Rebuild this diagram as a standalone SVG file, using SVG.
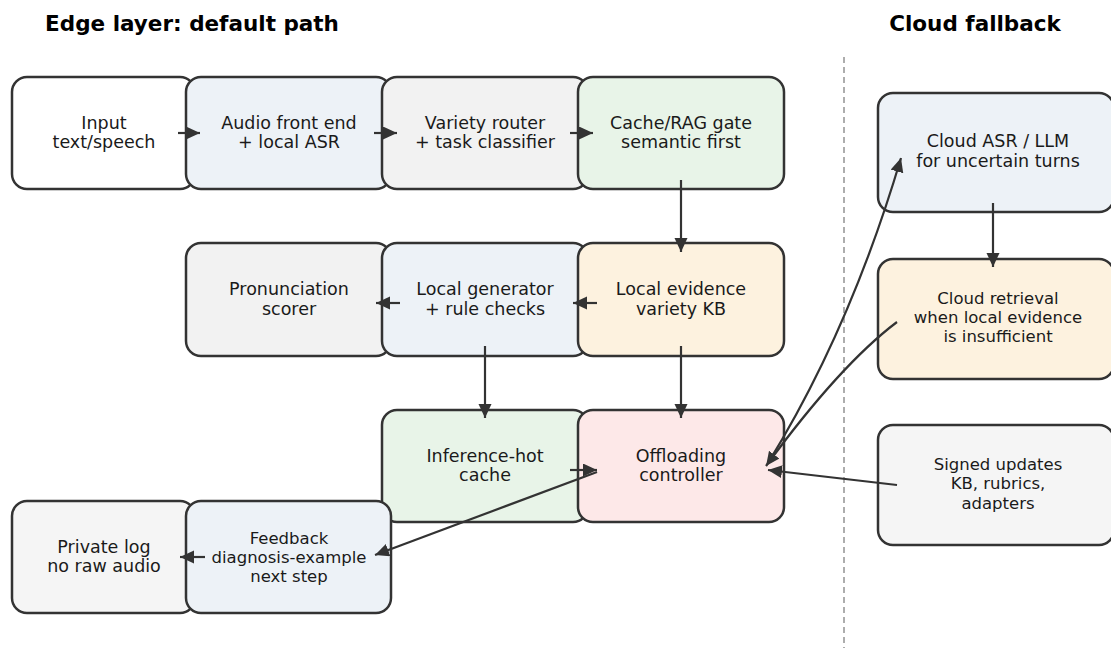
<svg xmlns="http://www.w3.org/2000/svg" width="1111" height="648" viewBox="0 0 1111 648">
  <style>
    .title { font-family: "DejaVu Sans", "Liberation Sans", sans-serif; font-weight: bold; font-size: 21.5px; fill: #000; text-anchor: middle; }
    .box { stroke: #333333; stroke-width: 2.5; }
    .label { font-family: "DejaVu Sans", "Liberation Sans", sans-serif; font-size: 17.5px; fill: #1a1a1a; text-anchor: middle; }
    .small { font-size: 16.5px; }
    .edge { fill: none; stroke: #333333; stroke-width: 2.2; marker-end: url(#head); }
    .divider { stroke: #999999; stroke-width: 1.6; stroke-dasharray: 6 4; }
  </style>
  <defs>
    <marker id="head" markerUnits="userSpaceOnUse" markerWidth="15" markerHeight="14" refX="14" refY="6.5" orient="auto">
      <path d="M0,0 L14,6.5 L0,13 z" fill="#333333"/>
    </marker>
  </defs>

  <rect width="1111" height="648" fill="#ffffff"/>

  <!-- section headings -->
  <text class="title" x="192" y="31">Edge layer: default path</text>
  <text class="title" x="975" y="31">Cloud fallback</text>

  <!-- edge / cloud boundary -->
  <line class="divider" x1="844" y1="57" x2="844" y2="648"/>

  <g id="nodes">
    <g id="input">
      <rect class="box" x="12" y="77" width="183" height="112" rx="15" fill="#ffffff"/>
      <text class="label" x="104" y="129">Input</text>
      <text class="label" x="104" y="148">text/speech</text>
    </g>
    <g id="audio-front-end">
      <rect class="box" x="186" y="77" width="205" height="112" rx="15" fill="#edf2f7"/>
      <text class="label" x="289" y="129">Audio front end</text>
      <text class="label" x="289" y="148">+ local ASR</text>
    </g>
    <g id="variety-router">
      <rect class="box" x="382" y="77" width="206" height="112" rx="15" fill="#f2f2f2"/>
      <text class="label" x="485" y="129">Variety router</text>
      <text class="label" x="485" y="148">+ task classifier</text>
    </g>
    <g id="cache-rag-gate">
      <rect class="box" x="578" y="77" width="206" height="112" rx="15" fill="#e8f4e8"/>
      <text class="label" x="681" y="129">Cache/RAG gate</text>
      <text class="label" x="681" y="148">semantic first</text>
    </g>

    <g id="pronunciation-scorer">
      <rect class="box" x="186" y="243" width="205" height="113" rx="15" fill="#f2f2f2"/>
      <text class="label" x="289" y="295">Pronunciation</text>
      <text class="label" x="289" y="315">scorer</text>
    </g>
    <g id="local-generator">
      <rect class="box" x="382" y="243" width="206" height="113" rx="15" fill="#edf2f7"/>
      <text class="label" x="485" y="295">Local generator</text>
      <text class="label" x="485" y="315">+ rule checks</text>
    </g>
    <g id="local-evidence">
      <rect class="box" x="578" y="243" width="206" height="113" rx="15" fill="#fdf2df"/>
      <text class="label" x="681" y="295">Local evidence</text>
      <text class="label" x="681" y="315">variety KB</text>
    </g>

    <g id="inference-hot-cache">
      <rect class="box" x="382" y="410" width="206" height="112" rx="15" fill="#e8f4e8"/>
      <text class="label" x="485" y="462">Inference-hot</text>
      <text class="label" x="485" y="481">cache</text>
    </g>
    <g id="offloading-controller">
      <rect class="box" x="578" y="410" width="206" height="112" rx="15" fill="#fde8e8"/>
      <text class="label" x="681" y="462">Offloading</text>
      <text class="label" x="681" y="481">controller</text>
    </g>

    <g id="private-log">
      <rect class="box" x="12" y="501" width="183" height="112" rx="15" fill="#f5f5f5"/>
      <text class="label" x="104" y="553">Private log</text>
      <text class="label" x="104" y="572">no raw audio</text>
    </g>
    <g id="feedback">
      <rect class="box" x="186" y="501" width="205" height="112" rx="15" fill="#edf2f7"/>
      <text class="label small" x="289" y="544">Feedback</text>
      <text class="label small" x="289" y="563">diagnosis-example</text>
      <text class="label small" x="289" y="582">next step</text>
    </g>

    <g id="cloud-asr-llm">
      <rect class="box" x="878" y="93" width="236" height="119" rx="15" fill="#edf2f7"/>
      <text class="label" x="998" y="147">Cloud ASR / LLM</text>
      <text class="label" x="998" y="167">for uncertain turns</text>
    </g>
    <g id="cloud-retrieval">
      <rect class="box" x="878" y="259" width="236" height="120" rx="15" fill="#fdf2df"/>
      <text class="label small" x="998" y="304">Cloud retrieval</text>
      <text class="label small" x="998" y="323">when local evidence</text>
      <text class="label small" x="998" y="342">is insufficient</text>
    </g>
    <g id="signed-updates">
      <rect class="box" x="878" y="425" width="236" height="120" rx="15" fill="#f5f5f5"/>
      <text class="label small" x="998" y="470">Signed updates</text>
      <text class="label small" x="998" y="489">KB, rubrics,</text>
      <text class="label small" x="998" y="509">adapters</text>
    </g>
  </g>

  <g id="connectors">
    <path class="edge" d="M178,133 L200,133"/>
    <path class="edge" d="M374,133 L397,133"/>
    <path class="edge" d="M570,133 L593,133"/>
    <path class="edge" d="M681,180 L681,252"/>
    <path class="edge" d="M597,303 L573,303"/>
    <path class="edge" d="M400,303 L376,303"/>
    <path class="edge" d="M485,346 L485,418"/>
    <path class="edge" d="M681,346 L681,418"/>
    <path class="edge" d="M570,470 L597,470"/>
    <path class="edge" d="M597,472 L375,555"/>
    <path class="edge" d="M205,557 L180,557"/>
    <path class="edge" d="M768,463 Q850,330 901,158"/>
    <path class="edge" d="M897,322 Q840,365 766,466"/>
    <path class="edge" d="M993,203 L993,267"/>
    <path class="edge" d="M897,485 L768,470"/>
  </g>
</svg>
